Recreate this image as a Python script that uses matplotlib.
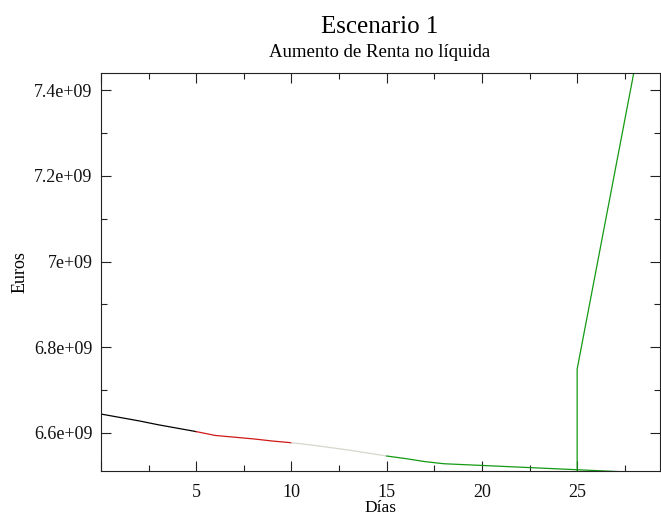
import matplotlib
matplotlib.use("Agg")
import matplotlib.pyplot as plt
from matplotlib.ticker import MultipleLocator, FuncFormatter

# ---------- Data ----------
dias_a = [0, 1, 2, 3, 4, 5]
euros_a = [6.644e9, 6.636e9, 6.628e9, 6.619e9, 6.611e9, 6.603e9]

dias_b = [5, 6, 7, 8, 9, 10]
euros_b = [6.603e9, 6.594e9, 6.590e9, 6.586e9, 6.581e9, 6.577e9]

dias_c = [10, 11, 12, 13, 14, 15]
euros_c = [6.577e9, 6.572e9, 6.566e9, 6.560e9, 6.553e9, 6.546e9]

dias_d = [15, 16, 17, 18, 19, 20, 21, 22, 23, 24, 25, 26, 27, 28]
euros_d = [6.546e9, 6.540e9, 6.533e9, 6.528e9, 6.526e9, 6.524e9, 6.522e9,
           6.520e9, 6.518e9, 6.516e9, 6.514e9, 6.512e9, 6.510e9, 6.508e9]

dias_e = [25, 25, 28.1]
euros_e = [6.45e9, 6.749e9, 7.47e9]

# ---------- Style ----------
plt.rcParams["font.family"] = ["Liberation Serif", "DejaVu Serif"]
AXIS = "#222222"

fig = plt.figure(figsize=(6.61, 5.18), dpi=100)
ax = fig.add_axes([0.1528, 0.0907, 0.8457, 0.7683])

ax.plot(dias_a, euros_a, color="#000000", lw=0.9)
ax.plot(dias_b, euros_b, color="#d01818", lw=0.9)
ax.plot(dias_c, euros_c, color="#d6d6cc", lw=0.9)
ax.plot(dias_d, euros_d, color="#139a13", lw=0.9)
ax.plot(dias_e, euros_e, color="#139a13", lw=0.9)

ax.set_xlim(0, 29.35)
ax.set_ylim(6.511e9, 7.44e9)

ax.xaxis.set_major_locator(MultipleLocator(5))
ax.xaxis.set_minor_locator(MultipleLocator(2.5))
ax.yaxis.set_major_locator(MultipleLocator(0.2e9))
ax.yaxis.set_minor_locator(MultipleLocator(0.1e9))


def fmt_x(v, pos):
    return "" if v == 0 else "%g" % v


def fmt_y(v, pos):
    return "%g" % v


ax.xaxis.set_major_formatter(FuncFormatter(fmt_x))
ax.yaxis.set_major_formatter(FuncFormatter(fmt_y))

ax.tick_params(which="both", direction="in", top=True, right=True,
               color=AXIS, width=0.8, labelsize=13, labelcolor="#111111")
ax.tick_params(which="major", length=7)
ax.tick_params(which="minor", length=4.5)
ax.tick_params(axis="x", pad=9)
ax.tick_params(axis="y", pad=6)

for s in ax.spines.values():
    s.set_color(AXIS)
    s.set_linewidth(0.8)

ax.set_xlabel("Días", fontsize=12.5, labelpad=-0.5)
ax.set_ylabel("Euros", fontsize=13, labelpad=4)

fig.text(0.575, 0.948, "Escenario 1", ha="center", va="center", fontsize=18)
fig.text(0.575, 0.898, "Aumento de Renta no líquida", ha="center", va="center",
         fontsize=13.5)

fig.savefig("out.png", dpi=100, facecolor="white")
